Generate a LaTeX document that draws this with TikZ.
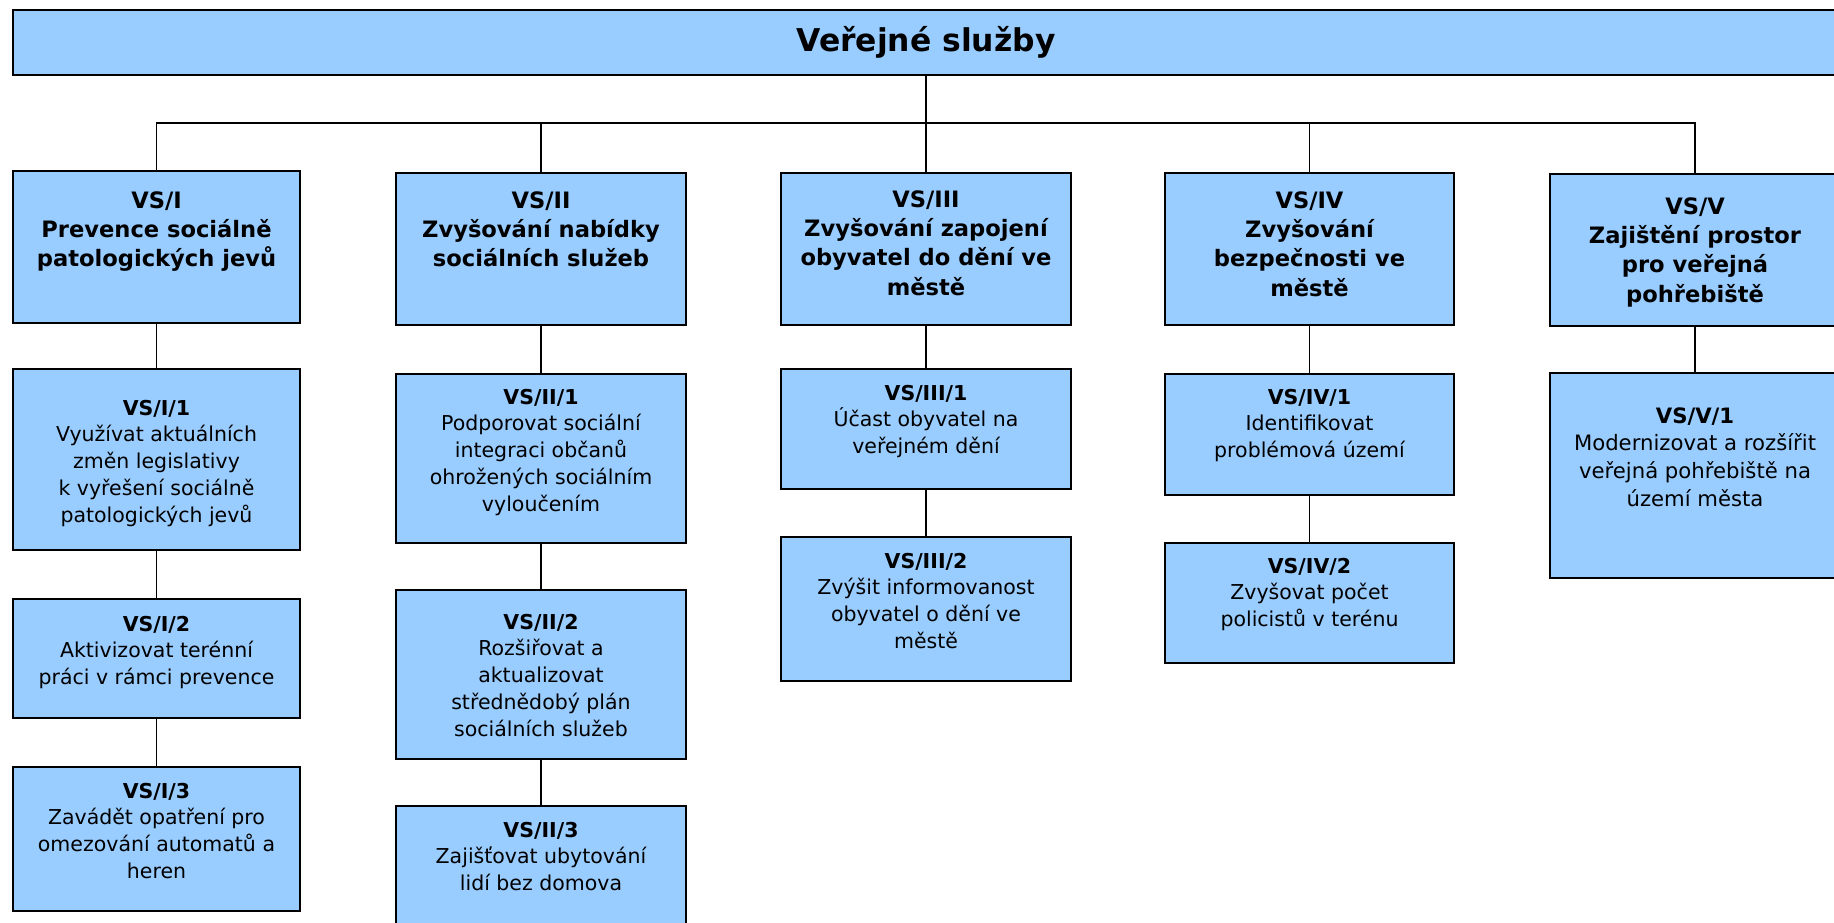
\documentclass[tikz,border=0pt]{standalone}
\usepackage{fontspec}
\setmainfont{DejaVu Sans}
\usepackage{xcolor}
\usepackage{tikz}
\usetikzlibrary{positioning}
\definecolor{svetlemodra}{RGB}{153,204,255}
\newlength{\pxu}
\setlength{\pxu}{0.5pt}
\newcommand{\hlavni}{\fontsize{11.3}{14.7}\selectfont\bfseries}
\newcommand{\dilci}{\fontsize{10.25}{13.4}\selectfont}
\newcommand{\obsah}[4]{\parbox[c][#2\pxu][t]{#1\pxu}{\centering\rule{0pt}{#3\pxu}#4}}

\begin{document}
\begin{tikzpicture}[x=0.5pt,y=-0.5pt,
		ramec/.style={draw=black,fill=svetlemodra,line width=1pt,inner sep=0pt,anchor=north west},
		spoj/.style={draw=black,line width=0.8pt}]
		\useasboundingbox (0,0) rectangle (1834,922);
		\clip (0,0) rectangle (1834,922);
		\node[ramec,minimum width=1826\pxu,minimum height=65\pxu,font=\fontsize{15.7}{18}\selectfont\bfseries] (vs) at (12,9) {Veřejné služby};
		% prvni uroven
		\node[ramec] (vs1) at (12,170) {\obsah{287}{152}{37}{\hlavni VS/I\\Prevence sociálně\\patologických jevů}};
		\node[ramec] (vs2) at (395,172) {\obsah{290}{152}{35}{\hlavni VS/II\\Zvyšování nabídky\\sociálních služeb}};
		\node[ramec] (vs3) at (780,172) {\obsah{290}{152}{34}{\hlavni VS/III\\Zvyšování zapojení\\obyvatel do dění ve\\městě}};
		\node[ramec] (vs4) at (1164,172) {\obsah{289}{152}{35}{\hlavni VS/IV\\Zvyšování\\bezpečnosti ve\\městě}};
		\node[ramec] (vs5) at (1549,173) {\obsah{290}{152}{40}{\hlavni VS/V\\Zajištění prostor\\pro veřejná\\pohřebiště}};
		% druha uroven
		\node[ramec] (vs11) at (12,368) {\obsah{287}{181}{46}{\dilci\textbf{VS/I/1}\\Využívat aktuálních\\změn legislativy\\k~vyřešení sociálně\\patologických jevů}};
		\node[ramec] (vs12) at (12,598) {\obsah{287}{119}{32}{\dilci\textbf{VS/I/2}\\Aktivizovat terénní\\práci v rámci prevence}};
		\node[ramec] (vs13) at (12,766) {\obsah{287}{144}{31}{\dilci\textbf{VS/I/3}\\Zavádět opatření pro\\omezování automatů a\\heren}};
		\node[ramec] (vs21) at (395,373) {\obsah{290}{169}{30}{\dilci\textbf{VS/II/1}\\Podporovat sociální\\integraci občanů\\ohrožených sociálním\\vyloučením}};
		\node[ramec] (vs22) at (395,589) {\obsah{290}{169}{39}{\dilci\textbf{VS/II/2}\\Rozšiřovat a\\aktualizovat\\střednědobý plán\\sociálních služeb}};
		\node[ramec] (vs23) at (395,805) {\obsah{290}{124}{31}{\dilci\textbf{VS/II/3}\\Zajišťovat ubytování\\lidí bez domova}};
		\node[ramec] (vs31) at (780,368) {\obsah{290}{120}{31}{\dilci\textbf{VS/III/1}\\Účast obyvatel na\\veřejném dění}};
		\node[ramec] (vs32) at (780,536) {\obsah{290}{144}{31}{\dilci\textbf{VS/III/2}\\Zvýšit informovanost\\obyvatel o dění ve\\městě}};
		\node[ramec] (vs41) at (1164,373) {\obsah{289}{121}{30}{\dilci\textbf{VS/IV/1}\\Identifikovat\\problémová území}};
		\node[ramec] (vs42) at (1164,542) {\obsah{289}{120}{30}{\dilci\textbf{VS/IV/2}\\Zvyšovat počet\\policistů v terénu}};
		\node[ramec] (vs51) at (1549,372) {\obsah{290}{205}{50}{\fontsize{10.6}{13.9}\selectfont\textbf{VS/V/1}\\Modernizovat a rozšířit\\veřejná pohřebiště na\\území města}};
		% spoje
		\path (vs.south) ++(0,47) coordinate (sbernice);
		\draw[spoj] (vs.south) -- (sbernice);
		\draw[spoj] (vs1.north) |- (sbernice) -| (vs5.north);
		\foreach \n in {vs2,vs3,vs4}
			\draw[spoj] (\n.north) -- (\n.north |- sbernice);
		\draw[spoj] (vs1.south) -- (vs11.north);
		\draw[spoj] (vs11.south) -- (vs12.north);
		\draw[spoj] (vs12.south) -- (vs13.north);
		\draw[spoj] (vs2.south) -- (vs21.north);
		\draw[spoj] (vs21.south) -- (vs22.north);
		\draw[spoj] (vs22.south) -- (vs23.north);
		\draw[spoj] (vs3.south) -- (vs31.north);
		\draw[spoj] (vs31.south) -- (vs32.north);
		\draw[spoj] (vs4.south) -- (vs41.north);
		\draw[spoj] (vs41.south) -- (vs42.north);
		\draw[spoj] (vs5.south) -- (vs51.north);
\end{tikzpicture}
\end{document}
